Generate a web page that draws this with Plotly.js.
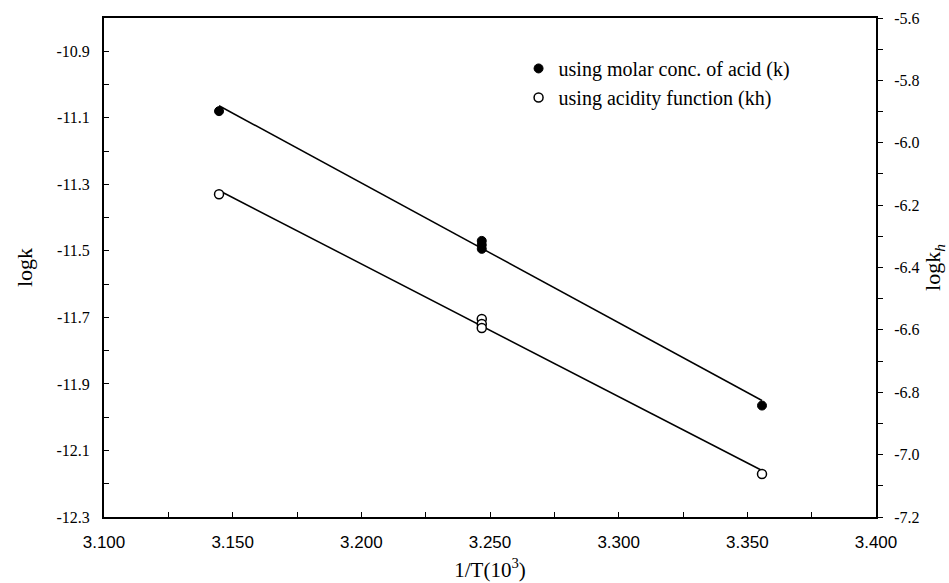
<!DOCTYPE html>
<html>
<head>
<meta charset="utf-8">
<script src="https://cdn.plot.ly/plotly-3.0.1.min.js"></script>
<style>html,body{margin:0;padding:0;background:#fff;}#chart{width:949px;height:583px;}</style>
</head>
<body>
<div id="chart"></div>
<script>
// Data
const invT = [3.1447, 3.2468, 3.2468, 3.2468, 3.3557];
const logK = [-11.080, -11.470, -11.482, -11.494, -11.965];
const logKh = [-6.165, -6.565, -6.581, -6.594, -7.062];
const seriesNames = ['using molar conc. of acid (k)', 'using acidity function (kh)'];

// Tick values and labels (hyphen-minus as in the reference)
const leftTickVals = [-12.3, -12.1, -11.9, -11.7, -11.5, -11.3, -11.1, -10.9];
const leftTickText = ['-12.3', '-12.1', '-11.9', '-11.7', '-11.5', '-11.3', '-11.1', '-10.9'];
const rightTickVals = [-7.2, -7.0, -6.8, -6.6, -6.4, -6.2, -6.0, -5.8, -5.6];
const rightTickText = ['-7.2', '-7.0', '-6.8', '-6.6', '-6.4', '-6.2', '-6.0', '-5.8', '-5.6'];
const xTickVals = [3.10, 3.15, 3.20, 3.25, 3.30, 3.35, 3.40];
const xTickText = ['3.100', '3.150', '3.200', '3.250', '3.300', '3.350', '3.400'];

function fit(xs, ys) {
  const n = xs.length;
  const mx = xs.reduce((a, b) => a + b, 0) / n;
  const my = ys.reduce((a, b) => a + b, 0) / n;
  let sxy = 0, sxx = 0;
  for (let i = 0; i < n; i++) { sxy += (xs[i] - mx) * (ys[i] - my); sxx += (xs[i] - mx) ** 2; }
  const b = sxy / sxx, a = my - b * mx;
  const x0 = Math.min(...xs), x1 = Math.max(...xs);
  return { x: [x0, x1], y: [a + b * x0, a + b * x1] };
}
const fK = fit(invT, logK);
const fKh = fit(invT, logKh);

const serif = 'Liberation Serif, Times New Roman, serif';
const sans = 'Liberation Sans, Arial, sans-serif';

const traces = [
  { x: fK.x, y: fK.y, mode: 'lines', line: { color: '#000', width: 1.5 }, showlegend: false, hoverinfo: 'skip', yaxis: 'y' },
  { x: fKh.x, y: fKh.y, mode: 'lines', line: { color: '#000', width: 1.5 }, showlegend: false, hoverinfo: 'skip', yaxis: 'y2' },
  { x: invT, y: logK, mode: 'markers', name: seriesNames[0], yaxis: 'y',
    marker: { symbol: 'circle', size: 9, color: '#000', line: { color: '#000', width: 1 } } },
  { x: invT, y: logKh, mode: 'markers', name: seriesNames[1], yaxis: 'y2',
    marker: { symbol: 'circle', size: 9, color: '#fff', line: { color: '#000', width: 1.5 } } }
];

const layout = {
  width: 949, height: 583,
  margin: { l: 104, r: 73, t: 18, b: 66 },
  paper_bgcolor: '#fff', plot_bgcolor: '#fff',
  showlegend: true,
  legend: { x: 0.537, y: 0.938, xanchor: 'left', yanchor: 'top', bgcolor: 'rgba(0,0,0,0)',
    font: { family: serif, size: 20, color: '#000' }, itemwidth: 30, tracegroupgap: 0 },
  xaxis: {
    range: [3.1, 3.4], tickmode: 'array', tickvals: xTickVals, ticktext: xTickText,
    showgrid: false, zeroline: false, showline: true, linecolor: '#000', linewidth: 2, mirror: true,
    ticks: 'inside', ticklen: 5, tickcolor: '#000', tickwidth: 1, ticklabelstandoff: 9,
    minor: { tickmode: 'linear', tick0: 3.1, dtick: 0.025, ticks: 'inside', ticklen: 5, tickcolor: '#000', tickwidth: 1, showgrid: false },
    tickfont: { family: sans, size: 17, color: '#000' },
    title: { text: '1/T(10<sup>3</sup>)', font: { family: serif, size: 21, color: '#000' }, standoff: 11 }
  },
  yaxis: {
    range: [-12.3, -10.8], tickmode: 'array', tickvals: leftTickVals, ticktext: leftTickText,
    showgrid: false, zeroline: false, showline: true, linecolor: '#000', linewidth: 2,
    ticks: 'inside', ticklen: 5, tickcolor: '#000', tickwidth: 1, ticklabelstandoff: 9,
    minor: { tickmode: 'linear', tick0: -12.3, dtick: 0.1, ticks: 'inside', ticklen: 5, tickcolor: '#000', tickwidth: 1, showgrid: false },
    tickfont: { family: serif, size: 16, color: '#000' },
    title: { text: 'logk', font: { family: serif, size: 22, color: '#000' }, standoff: 18 }
  },
  yaxis2: {
    overlaying: 'y', side: 'right', anchor: 'x',
    range: [-7.2, -5.6], tickmode: 'array', tickvals: rightTickVals, ticktext: rightTickText,
    showgrid: false, zeroline: false, showline: true, linecolor: '#000', linewidth: 2,
    ticks: 'outside', ticklen: 5, tickcolor: '#000', tickwidth: 1, ticklabelstandoff: 8,
    minor: { tickmode: 'linear', tick0: -7.2, dtick: 0.1, ticks: 'outside', ticklen: 5, tickcolor: '#000', tickwidth: 1, showgrid: false },
    tickfont: { family: serif, size: 16, color: '#000' },
    title: { text: 'logk<sub><i>h</i></sub>', font: { family: serif, size: 22, color: '#000' }, standoff: 6 }
  }
};

Plotly.newPlot('chart', traces, layout, { staticPlot: true, displayModeBar: false });
</script>
</body>
</html>
